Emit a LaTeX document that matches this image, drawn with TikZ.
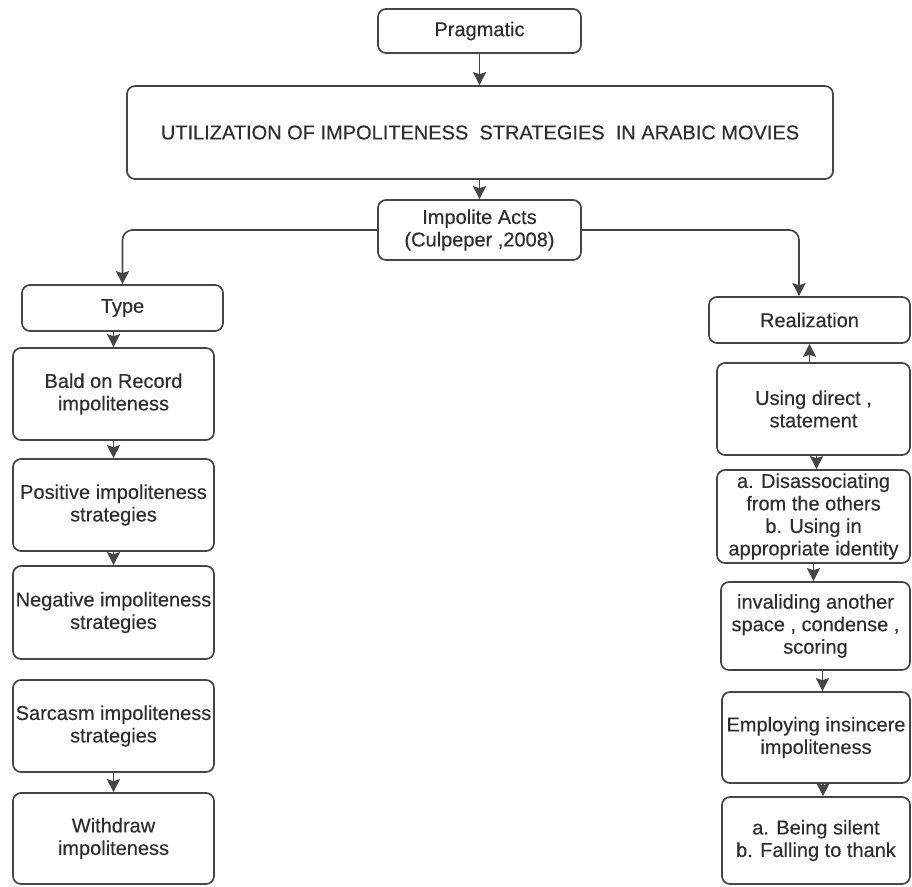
\documentclass[tikz,border=0pt]{standalone}
\usepackage{fontspec}
\setmainfont{Liberation Sans}
\newfontfamily\boxfont{Liberation Sans}[FakeBold=0.25]
\usetikzlibrary{arrows.meta}
\definecolor{linec}{HTML}{454545}
\definecolor{textc}{HTML}{2E2E2E}
\tikzset{
  box/.style={draw=linec, line width=1.7pt, rounded corners=8pt, fill=white,
    inner sep=0pt, align=center, text=textc,
    font=\boxfont\fontsize{20}{22.5}\selectfont},
  arr/.style={draw=linec, line width=1.7pt,
    -{Stealth[length=13pt,width=13pt,inset=2pt]}},
}
\begin{document}
\begin{tikzpicture}[x=1pt,y=-1pt]
\useasboundingbox[fill=white] (0,0) rectangle (912,886);

% top
\node[box, minimum width=203, minimum height=44] (prag) at (479.5,31) {Pragmatic};
\node[box, minimum width=706, minimum height=93] (title) at (480,132.5)
  {UTILIZATION OF IMPOLITENESS\ \ STRATEGIES\ \ IN ARABIC MOVIES};
\node[box, minimum width=203, minimum height=60] (acts) at (479.5,230)
  {Impolite Acts\\(Culpeper ,2008)};

% left column
\node[box, minimum width=201, minimum height=46] (type) at (122.5,308) {Type};
\node[box, minimum width=201, minimum height=92] (bald) at (113.5,394) {Bald on Record\\impoliteness};
\node[box, minimum width=201, minimum height=92] (pos) at (113.5,505) {Positive impoliteness\\strategies};
\node[box, minimum width=201, minimum height=93] (neg) at (113.5,612.5) {Negative impoliteness\\strategies};
\node[box, minimum width=201, minimum height=92] (sarc) at (113.5,726) {Sarcasm impoliteness\\strategies};
\node[box, minimum width=201, minimum height=91] (withd) at (113.5,838.5) {Withdraw\\impoliteness};

% right column
\node[box, minimum width=201, minimum height=46] (real) at (809.5,320) {Realization};
\node[box, minimum width=193, minimum height=92] (using) at (813.5,409) {Using direct ,\\statement};
\node[box, minimum width=193, minimum height=93] (dis) at (813.5,516.5)
  {a. Disassociating\\from the others\\b. Using in\\appropriate identity};
\node[box, minimum width=189, minimum height=88] (inv) at (815.5,626)
  {invaliding another\\space , condense ,\\scoring};
\node[box, minimum width=188, minimum height=91] (emp) at (816,737.5)
  {Employing insincere\\impoliteness};
\node[box, minimum width=188, minimum height=87] (sil) at (816,840.5)
  {a. Being silent\\b. Falling to thank};

% connectors
\draw[arr] (prag.south) -- (prag.south |- title.north);
\draw[arr] (title.south -| acts) -- (acts.north);
\draw[arr, rounded corners=10pt] (acts.west) -| (type.north);
\coordinate (rin) at ([xshift=-10.5pt]real.north);
\draw[arr, rounded corners=10pt] (acts.east) -| (rin);

\draw[arr] (bald.north |- type.south) -- (bald.north);
\draw[arr] (bald.south) -- (pos.north);
\draw[arr] (pos.south) -- (neg.north);
\draw[arr] (sarc.south) -- (withd.north);

\draw[arr] (real.south |- using.north) -- (real.south);
\coordinate (u1) at ([xshift=3pt]using.south);
\draw[arr] (u1) -- (u1 |- dis.north);
\draw[arr] (dis.south) -- (dis.south |- inv.north);
\coordinate (i1) at ([xshift=7pt]inv.south);
\draw[arr] (i1) -- (i1 |- emp.north);
\coordinate (e1) at ([xshift=7pt]emp.south);
\draw[arr] (e1) -- (e1 |- sil.north);
\end{tikzpicture}
\end{document}
